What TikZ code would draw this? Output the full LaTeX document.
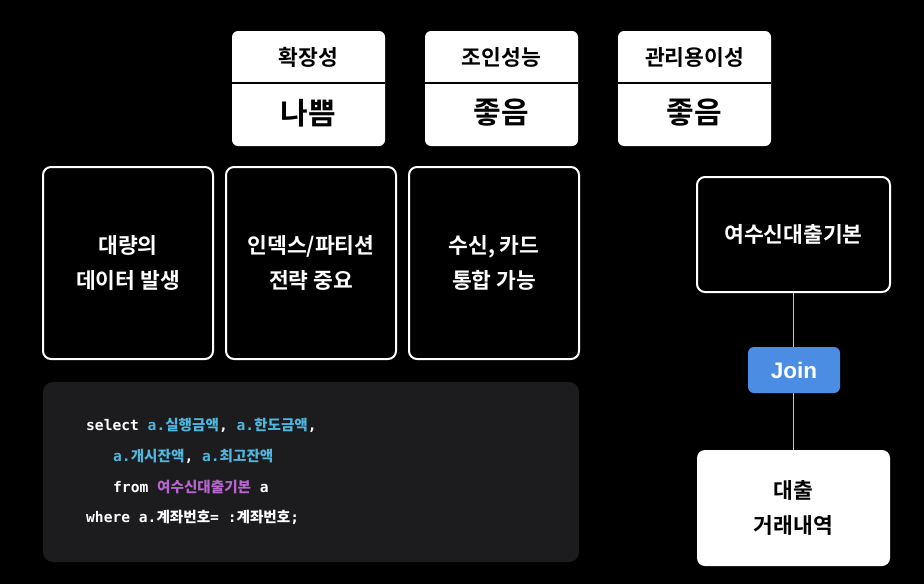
\documentclass[tikz,border=0pt]{standalone}
\usepackage{fontspec}
\newfontfamily\krb{Noto Sans CJK KR Bold}
\newfontfamily\mono{DejaVu Sans Mono}
\newfontfamily\lsans{Liberation Sans}
\definecolor{codebg}{HTML}{1C1C1E}
\definecolor{cyanc}{HTML}{4FB6DD}
\definecolor{purp}{HTML}{B466CC}
\definecolor{joinblue}{HTML}{4A8DE3}
\definecolor{linegray}{HTML}{C8C8C8}
\tikzset{
  topcard/.style={draw=none, fill=white, rounded corners=6pt, minimum width=153pt, minimum height=115pt},
  darkbox/.style={draw=white, line width=2pt, fill=black, rounded corners=8pt, align=center, text=white, font=\krb\fontsize{21.5}{35}\selectfont},
  hdr/.style={font=\krb\fontsize{21.5}{24}\selectfont, text=black},
  val/.style={font=\krb\fontsize{30}{34}\selectfont, text=black},
  codeline/.style={anchor=base west, inner sep=0pt, text=white, font=\mono\bfseries\fontsize{14.6}{16}\selectfont},
}
\newcommand{\ck}[1]{{\krb\fontsize{14.6}{16}\selectfont #1}}
\begin{document}
\begin{tikzpicture}[x=1pt,y=-1pt]
\fill[black] (0,0) rectangle (924,584);
\useasboundingbox (0,0) rectangle (924,584);

% top cards
\foreach \cx/\h/\v/\n in {308.5/확장성/나쁨/a, 501.5/조인성능/좋음/b, 694.5/관리용이성/좋음/c}{
  \node[topcard] (card\n) at (\cx,88.5) {};
  \draw[black, line width=1.5pt] (\cx-76.5,83) -- (\cx+76.5,83);
  \node[hdr] (hdr\n) at (\cx,57) {\h};
  \node[val] (val\n) at (\cx,113) {\v};
}

% middle boxes
\node[darkbox, minimum width=170pt, minimum height=192pt] (m1) at (128,263) {대량의\\데이터 발생};
\node[darkbox, minimum width=170pt, minimum height=192pt] (m2) at (311,263) {인덱스/파티션\\전략 중요};
\node[darkbox, minimum width=170pt, minimum height=192pt] (m3) at (494,263) {수신, 카드\\통합 가능};

% code box
\node[fill=codebg, rounded corners=10pt, minimum width=536pt, minimum height=180pt] (code) at (311,472) {};
\node[codeline] (l1) at (86,430) {select \textcolor{cyanc}{a.\ck{실행금액}}, \textcolor{cyanc}{a.\ck{한도금액}},};
\node[codeline] (l2) at (113,461) {\textcolor{cyanc}{a.\ck{개시잔액}}, \textcolor{cyanc}{a.\ck{최고잔액}}};
\node[codeline] (l3) at (113,492) {from \textcolor{purp}{\ck{여수신대출기본}} a};
\node[codeline] (l4) at (86,522) {where a.\ck{계좌번호}= :\ck{계좌번호};};

% right side
\node[darkbox, minimum width=193pt, minimum height=115pt] (base) at (793.5,234.5) {여수신대출기본};
\node[fill=white, rounded corners=8pt, minimum width=193pt, minimum height=116pt, align=center, font=\krb\fontsize{21.5}{35}\selectfont, text=black] (loan) at (793.5,508) {대출\\거래내역};
\draw[linegray, line width=1.8pt] (base.south) -- (loan.north);
\node[fill=joinblue, rounded corners=6pt, minimum width=92pt, minimum height=46pt, text=white, font=\lsans\bfseries\fontsize{22.5}{26}\selectfont] (join) at (794,370) {Join};
\end{tikzpicture}
\end{document}
